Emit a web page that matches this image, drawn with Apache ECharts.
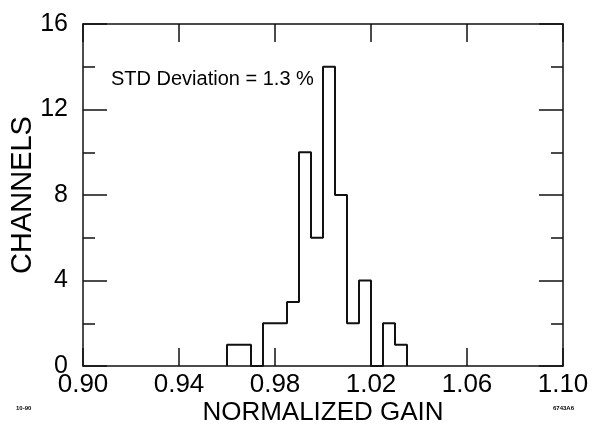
<!DOCTYPE html>
<html>
<head>
<meta charset="utf-8">
<script src="https://cdn.jsdelivr.net/npm/echarts@6/dist/echarts.min.js"></script>
<style>
html,body{margin:0;padding:0;background:#fff;}
#chart{width:593px;height:436px;}
</style>
</head>
<body>
<div id="chart"></div>
<script>
// Histogram bins (left edge of each bin, normalized gain) and channel counts
var binStarts = [0.960, 0.965, 0.970, 0.975, 0.980, 0.985, 0.990, 0.995, 1.000, 1.005, 1.010, 1.015, 1.020, 1.025, 1.030];
var counts    = [1,     1,     0,     2,     2,     3,     10,    6,     14,    8,     2,     4,     0,     2,     1];
var lastEdge  = 1.035;
var xTickLabels = ['0.90', '0.94', '0.98', '1.02', '1.06', '1.10'];
var yTickLabels = ['0', '4', '8', '12', '16'];
var annotation = 'STD Deviation = 1.3 %';

// axis runs in hundredths offset from 0.90 so min is a multiple of interval
var X0 = 0.90;
function toAxis(v) { return Math.round((v - X0) * 100000) / 1000; }

var stepData = [[toAxis(binStarts[0]), 0]];
for (var i = 0; i < binStarts.length; i++) {
  stepData.push([toAxis(binStarts[i]), counts[i]]);
}
stepData.push([toAxis(lastEdge), 0]);

var FONT = 'Liberation Sans, Arial, Helvetica, sans-serif';
var lineCol = '#111';

var chart = echarts.init(document.getElementById('chart'), null, {renderer: 'canvas'});
var xCommon = {
  type: 'value', min: 0, max: 20, interval: 4,
  axisLine: {show: true, onZero: false, lineStyle: {color: lineCol, width: 1.5}},
  axisTick: {show: true, inside: true, length: 18, lineStyle: {color: lineCol, width: 1.5}},
  splitLine: {show: false}
};
var yCommon = {
  type: 'value', min: 0, max: 16, interval: 4,
  axisLine: {show: true, onZero: false, lineStyle: {color: lineCol, width: 1.5}},
  axisTick: {show: true, inside: true, length: 24, lineStyle: {color: lineCol, width: 1.5}},
  minorTick: {show: true, splitNumber: 2, length: 12, lineStyle: {color: lineCol, width: 1.5}},
  splitLine: {show: false}
};

chart.setOption({
  animation: false,
  backgroundColor: '#fff',
  grid: {left: 83, right: 30, top: 24, bottom: 70, containLabel: false, outerBoundsMode: 'none'},
  xAxis: [
    Object.assign({}, xCommon, {
      position: 'bottom',
      name: 'NORMALIZED GAIN', nameLocation: 'middle', nameGap: 34, nameMoveOverlap: false,
      nameTextStyle: {fontFamily: FONT, fontSize: 26, color: '#000'},
      axisLabel: {show: true, margin: 6, fontFamily: FONT, fontSize: 26, color: '#000',
        formatter: function (v) { return xTickLabels[Math.round(v / 4)]; }}
    }),
    Object.assign({}, xCommon, {position: 'top', axisLabel: {show: false}})
  ],
  yAxis: [
    Object.assign({}, yCommon, {
      position: 'left',
      name: 'CHANNELS', nameLocation: 'middle', nameGap: 46, nameRotate: 90, nameMoveOverlap: false,
      nameTextStyle: {fontFamily: FONT, fontSize: 29, color: '#000'},
      axisLabel: {show: true, margin: 15, fontFamily: FONT, fontSize: 25, color: '#000',
        formatter: function (v) { return yTickLabels[Math.round(v / 4)]; }}
    }),
    Object.assign({}, yCommon, {position: 'right', axisLabel: {show: false}})
  ],
  series: [{
    type: 'line', xAxisIndex: 0, yAxisIndex: 0,
    step: 'end', data: stepData, symbol: 'none',
    lineStyle: {color: lineCol, width: 2}
  }],
  graphic: [
    {type: 'text', left: 111, top: 69, style: {text: annotation, font: '20px ' + FONT, fill: '#000'}},
    {type: 'text', left: 16, top: 405, style: {text: '10-90', font: 'bold 6px ' + FONT, fill: '#000'}},
    {type: 'text', left: 553, top: 405, style: {text: '6743A6', font: 'bold 6px ' + FONT, fill: '#000'}}
  ]
});
</script>
</body>
</html>
